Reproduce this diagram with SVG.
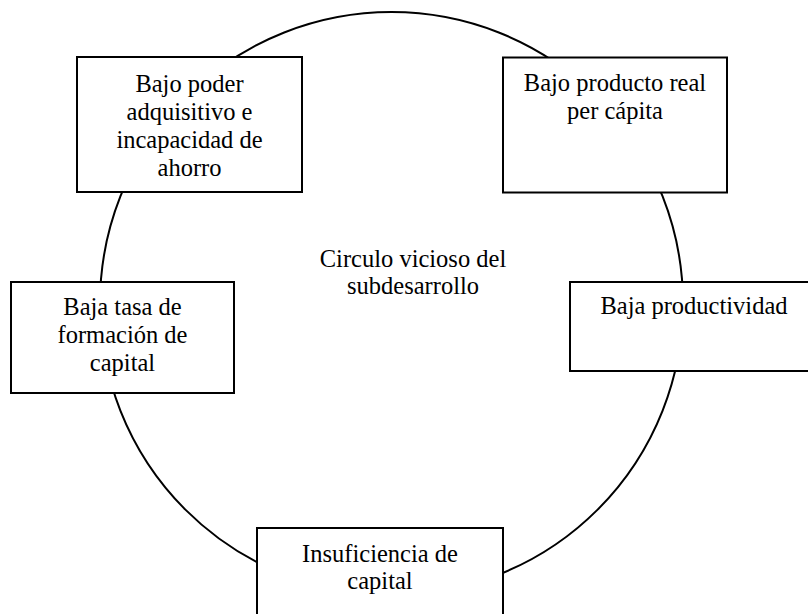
<svg xmlns="http://www.w3.org/2000/svg" width="808" height="614" viewBox="0 0 808 614">
<style>
.box{fill:#fff;stroke:#000;stroke-width:2}
.ring{fill:none;stroke:#000;stroke-width:2}
text{font-family:"Liberation Serif","Times New Roman",serif;font-size:24.5px;fill:#000;text-anchor:middle}
</style>
<rect width="808" height="614" fill="#fff"/>
<g id="connectors">
<circle class="ring" cx="391.5" cy="303.5" r="291.5"/>
</g>
<g id="center-label">
<text x="413" y="267">Circulo vicioso del</text>
<text x="413" y="294">subdesarrollo</text>
</g>
<g id="node-ahorro">
<rect class="box" x="77" y="57" width="225" height="135"/>
<text x="189.5" y="92">Bajo poder</text>
<text x="189.5" y="120">adquisitivo e</text>
<text x="189.5" y="148">incapacidad de</text>
<text x="189.5" y="176">ahorro</text>
</g>
<g id="node-producto">
<rect class="box" x="503" y="57.5" width="224" height="135"/>
<text x="615" y="91">Bajo producto real</text>
<text x="615" y="119">per cápita</text>
</g>
<g id="node-formacion">
<rect class="box" x="11" y="282" width="223" height="111"/>
<text x="122.5" y="315">Baja tasa de</text>
<text x="122.5" y="343">formación de</text>
<text x="122.5" y="371">capital</text>
</g>
<g id="node-productividad">
<rect class="box" x="570" y="282" width="248" height="89"/>
<text x="694" y="314">Baja productividad</text>
</g>
<g id="node-insuficiencia">
<rect class="box" x="257" y="528" width="246" height="100"/>
<text x="380" y="562">Insuficiencia de</text>
<text x="380" y="589">capital</text>
</g>
</svg>
